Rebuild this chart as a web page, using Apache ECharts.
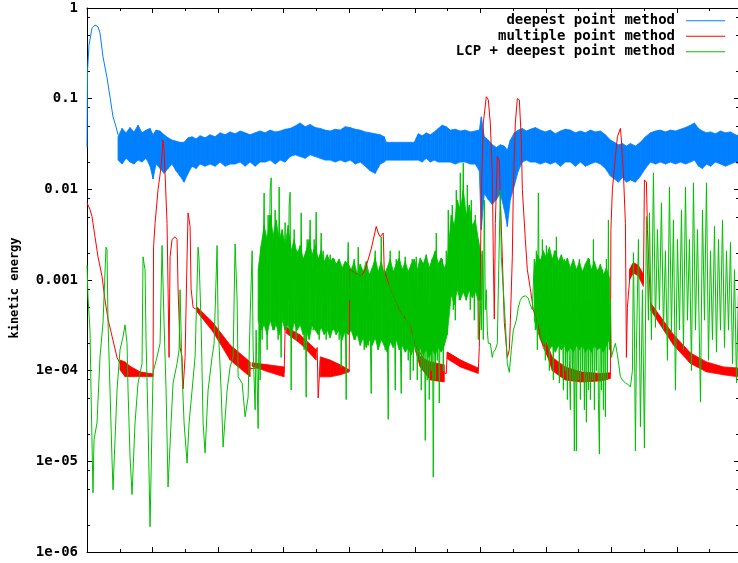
<!DOCTYPE html>
<html><head><meta charset="utf-8">
<script src="https://cdn.jsdelivr.net/npm/echarts@6/dist/echarts.min.js"></script>
<style>html,body{margin:0;padding:0;background:#fff}#c{width:738px;height:563px}</style>
</head><body><div id="c"></div>
<script>
// ---------- names & ticks ----------
const seriesNames = ['deepest point method', 'multiple point method', 'LCP + deepest point method'];
const yTickValues = [1e-6, 1e-5, 1e-4, 1e-3, 1e-2, 1e-1, 1];
const yTickText = ['1e-06', '1e-05', '1e-04', '0.001', '0.01', '0.1', '1'];
const yMinorMult = [2, 5, 8];
const X_MAX = 1303, X_STEP = 131;

// ---------- deepest point method (blue) ----------
const blueT = [0,1,4,10,16,22,26,32,40,46,52,58,62];
const blueV = [0.029,0.2,0.39,0.6,0.65,0.62,0.53,0.29,0.17,0.104,0.063,0.049,0.04];
const blueBandT = [62,70,78,86,94,102,110,118,126,132,138,146,154,162,170,178,186,194,202,210,218,226,236,246,256,266,276,286,296,306,316,326,
336,346,356,366,376,386,396,406,416,426,436,446,456,466,476,486,496,506,516,526,536,546,556,566,576,586,594,598,626,654,
662,670,678,686,694,702,710,718,726,736,746,756,766,776,784,788,794,802,810,818,826,834,840,846,854,862,870,878,886,896,906,916,926,936,946,956,966,976,
986,996,1006,1016,1026,1036,1046,1054,1062,1070,1078,1086,1096,1106,1116,1126,1136,1146,1156,1166,1176,1186,1196,1206,1214,1222,1230,1238,1246,1256,1266,1276,1286,1296,1302];
const blueBandHi = [0.038,0.047,0.042,0.048,0.043,0.051,0.042,0.045,0.047,0.040,0.045,0.044,0.040,0.037,0.035,0.034,0.033,0.033,0.037,0.038,0.036,0.039,0.037,0.040,0.038,0.042,0.040,0.043,0.041,0.044,0.042,0.040,
0.042,0.044,0.042,0.045,0.043,0.044,0.046,0.047,0.050,0.054,0.049,0.052,0.048,0.047,0.045,0.044,0.046,0.045,0.049,0.048,0.046,0.045,0.043,0.042,0.041,0.040,0.038,0.033,0.033,0.033,
0.041,0.039,0.042,0.040,0.043,0.047,0.051,0.049,0.045,0.046,0.044,0.045,0.043,0.044,0.045,0.063,0.038,0.035,0.031,0.029,0.031,0.030,0.027,0.035,0.042,0.045,0.047,0.044,0.046,0.048,0.045,0.043,0.045,0.041,0.044,0.046,0.045,0.042,
0.044,0.042,0.045,0.043,0.044,0.040,0.035,0.033,0.031,0.032,0.030,0.032,0.030,0.033,0.038,0.042,0.044,0.045,0.043,0.045,0.044,0.046,0.048,0.051,0.054,0.047,0.044,0.042,0.043,0.041,0.044,0.042,0.043,0.040,0.039];
const blueBandLo = [0.021,0.019,0.022,0.020,0.019,0.021,0.020,0.022,0.018,0.013,0.019,0.017,0.015,0.017,0.019,0.016,0.014,0.012,0.015,0.018,0.017,0.019,0.018,0.019,0.018,0.020,0.018,0.019,0.019,0.020,0.018,0.020,
0.018,0.020,0.020,0.021,0.019,0.021,0.020,0.023,0.024,0.023,0.022,0.024,0.023,0.022,0.021,0.021,0.020,0.021,0.020,0.021,0.019,0.020,0.018,0.016,0.015,0.019,0.020,0.021,0.021,0.021,
0.021,0.020,0.022,0.020,0.021,0.020,0.020,0.020,0.020,0.019,0.020,0.020,0.019,0.019,0.016,0.0036,0.009,0.0077,0.0068,0.0077,0.009,0.006,0.0039,0.0077,0.011,0.016,0.020,0.021,0.020,0.020,0.019,0.020,0.019,0.020,0.018,0.020,0.020,0.018,
0.020,0.018,0.019,0.020,0.019,0.017,0.014,0.013,0.012,0.0135,0.012,0.0127,0.012,0.014,0.017,0.020,0.019,0.020,0.019,0.020,0.019,0.020,0.019,0.020,0.021,0.018,0.017,0.019,0.018,0.020,0.019,0.018,0.019,0.020,0.019];

// ---------- multiple point method (red) ----------
const redT = [0,6,10,16,22,30,36,42,50,60,
66,86,106,132,133,136,142,148,152,154,
156,160,162,164,166,170,176,180,182,186,
190,192,196,200,202,206,208,212,222,246,
286,326,356,394,396,426,458,460,462,466,
496,524,525,536,548,556,568,578,582,586,
592,594,606,626,646,656,686,718,720,782,
784,788,792,798,802,806,810,812,814,816,
820,824,826,830,834,840,844,846,850,852,
856,860,864,868,870,876,880,886,892,900,
906,912,922,946,976,1016,1046,1047,1050,1056,
1060,1066,1068,1072,1076,1078,1080,1086,1090,1096,
1106,1112,1114,1118,1120,1126,1172,1238,1302];
const redV = [0.0071,0.006,0.005,0.003,0.0018,0.0011,0.0006,0.00037,0.00024,0.00014,
0.00012,0.0001,0.000093,0.00009,0.0023,0.0042,0.01,0.0176,0.035,0.027,
0.015,0.0042,0.0008,0.00014,0.0018,0.0028,0.003,0.0028,0.0008,0.00018,
0.00014,0.000063,0.00014,0.0018,0.0055,0.0039,0.0008,0.0005,0.00046,0.00035,
0.00017,0.000105,0.00011,0.000095,0.0003,0.00022,0.00016,0.00018,0.00005,0.00013,
0.000105,0.0001,0.0013,0.0012,0.0011,0.0013,0.0022,0.0039,0.0033,0.003,
0.0033,0.0013,0.0008,0.00045,0.00032,0.00019,0.000105,0.000093,0.00016,0.0001,
0.00018,0.0083,0.054,0.105,0.097,0.054,0.015,0.0018,0.00037,0.0042,
0.023,0.021,0.0077,0.0018,0.00034,0.00014,0.00017,0.00034,0.0018,0.01,
0.054,0.1,0.097,0.035,0.01,0.0028,0.0013,0.0008,0.00047,0.00034,
0.00024,0.00018,0.00014,0.0001,0.000093,0.00009,0.00009,0.0036,0.01,0.023,
0.038,0.047,0.035,0.015,0.0042,0.00014,0.0005,0.0013,0.0015,0.0015,
0.0012,0.00094,0.0127,0.012,0.0036,0.00056,0.00022,0.00011,0.000093];
// thick oscillating stretches of the red curve (upper / lower envelope), null = gap
const redWedgeT = [66,76,86,106,132,null,220,252,286,326,null,330,362,394,null,398,426,458,null,466,486,506,524,null,656,666,686,714,null,720,746,782,null,900,916,930,956,986,1026,1046,null,1084,1092,1102,1112,null,1126,1172,1206,1238,1272,1302];
const redWedgeHi = [1.31e-4,1.25e-4,1.12e-4,9.7e-5,9.2e-5,null,5.05e-4,3.37e-4,1.92e-4,1.25e-4,null,1.22e-4,1.16e-4,1.1e-4,null,3.04e-4,2.48e-4,1.7e-4,null,1.42e-4,1.31e-4,1.16e-4,1.02e-4,null,1.92e-4,1.42e-4,1.25e-4,1.16e-4,null,1.6e-4,1.31e-4,1.07e-4,null,3.37e-4,2.2e-4,1.4e-4,1.1e-4,9.7e-5,9.3e-5,9.5e-5,null,1.3e-3,1.55e-3,1.45e-3,1.15e-3,null,5.6e-4,2.5e-4,1.57e-4,1.25e-4,1.1e-4,1.07e-4];
const redWedgeLo = [1.02e-4,8.6e-5,8.6e-5,8.6e-5,8.6e-5,null,4.45e-4,2.68e-4,1.31e-4,8.55e-5,null,1.12e-4,9.7e-5,8.55e-5,null,2.6e-4,2.0e-4,1.31e-4,null,8.55e-5,8.55e-5,9e-5,9.7e-5,null,1.7e-4,1.1e-4,7.9e-5,7.5e-5,null,1.35e-4,1.1e-4,9.3e-5,null,2.8e-4,1.7e-4,1.0e-4,7.9e-5,7.5e-5,7.7e-5,8.2e-5,null,1.0e-3,1.2e-3,1.1e-3,8.5e-4,null,4.7e-4,1.92e-4,1.2e-4,9.7e-5,9e-5,8.55e-5];

// ---------- LCP + deepest point method (green) ----------
const greenT1 = [0,2,6,8,12,14,20,26,32,38,40,42,46,50,52,56,60,66,72,76,80,82,86,90,96,102,110,112,116,118,122,126,130,132,140,146,150,154,158,162,168,172,180,184,186,190,194,200,204,210,216,222,224,228,232,236,242,250,254,260,262,268,272,280,286,292,296,300,302,310,316,322,326];
const greenV1 = [1.47e-3,6.5e-4,2.8e-4,6.1e-5,4.5e-6,1.73e-5,2.66e-5,1.42e-4,3.37e-4,2.3e-3,
2.15e-3,3.37e-4,6.1e-5,1.04e-5,4.85e-6,1.73e-5,6.1e-5,1.7e-4,2.36e-4,3.2e-4,
2.0e-4,6.1e-5,1.12e-5,4.3e-6,2.66e-5,7.3e-5,1.2e-4,1.8e-3,1.29e-3,2.2e-4,
2.66e-5,1.9e-6,2.66e-5,9.6e-5,1.42e-4,2.0e-4,2.4e-3,3.37e-4,6.1e-5,5.2e-6,
2.66e-5,7.3e-5,1.2e-4,1.7e-4,7.8e-4,9.6e-5,2.66e-5,9.6e-6,2.66e-5,6.1e-5,
1.42e-4,2.3e-3,1.67e-3,3.37e-4,2.66e-5,1.24e-5,6.1e-5,1.42e-4,2.0e-4,2.4e-3,
3.37e-4,6.1e-5,1.44e-5,6.1e-5,1.1e-4,1.42e-4,2.5e-3,6.0e-4,8.55e-5,7.3e-5,
3.1e-5,5.1e-5,3.9e-4];
const greenT2 = [330,332,336,338,342,344,346,348,350,354,
356,358,360,362,364,366,368,370,372,374,376,378,380,382,384,386,388,390,392,394,
396,398,400,402,404,406,408,410,412,414,416,418,420,422,424,426,428,430,432,434,
436,438,440,442,444,446,448,450,452,454,456,458,460,462,464,466,468,470,472,474,
476,478,480,482,484,486,488,490,492,494,496,498,500,502,504,506,508,510,512,514,
516,518,520,522,524,526,528,530,532,534,536,538,540,542,544,546,548,550,552,554,
556,558,560,562,564,566,568,570,572,574,576,578,580,582,584,586,588,590,592,594,
596,598,600,602,604,606,608,610,612,614,616,618,620,622,624,626,628,630,632,634,
636,638,640,642,644,646,648];
const greenV2 = [0.0021,1.7e-4,3.7e-5,2.8e-4,2.3e-5,6.0e-4,7.9e-5,0.0021,2.2e-4,0.0091,
3.6e-4,0.0017,1.7e-4,0.0052,6.0e-4,0.0098,0.0134,7.8e-4,0.0028,2.8e-4,
0.0059,3.4e-4,0.0021,2.2e-4,0.0106,6.0e-4,1.4e-4,0.0028,4.7e-4,0.0013,
0.0043,2.8e-4,0.0017,6.0e-4,0.0067,0.0093,6.1e-5,0.0017,3.6e-4,0.0036,
7.8e-4,2.2e-4,0.0021,6.0e-4,0.0013,3.6e-4,0.0055,6.0e-4,0.0017,1.7e-4,
0.001,5.1e-5,0.0028,3.6e-4,0.0017,0.0046,6.0e-4,0.0013,2.8e-4,0.0028,
7.8e-4,0.0056,3.6e-4,0.0017,2.2e-4,0.001,0.0033,6.0e-4,0.0021,3.6e-4,
0.0013,2.2e-4,7.8e-4,0.0015,3.6e-4,0.0019,6.0e-4,0.0013,2.8e-4,0.0017,
6.0e-4,0.0015,3.6e-4,0.001,2.2e-4,0.0013,1.1e-4,7.8e-4,2.8e-4,0.0013,
4.7e-4,4.8e-5,0.001,0.0026,6.0e-4,0.0013,2.8e-4,0.001,3.6e-4,0.0017,
2.2e-4,7.8e-4,4.7e-4,0.0023,6.0e-4,2.2e-4,0.0013,2.8e-4,7.8e-4,1.7e-4,
0.001,3.6e-4,0.0013,1.9e-4,6.0e-4,2.8e-4,5.6e-5,7.8e-4,3.6e-4,0.0013,
0.0021,2.2e-4,7.8e-4,1.7e-4,0.001,3.6e-4,0.003,6.0e-4,2.8e-4,0.0013,
1.7e-4,0.001,3.6e-4,2.9e-5,7.8e-4,0.0021,2.8e-4,0.0013,2.2e-4,0.001,
6.1e-5,0.0017,3.6e-4,6.0e-4,0.0021,2.2e-4,5.6e-5,0.0013,3.6e-4,0.001,
0.0018,2.8e-4,7.8e-4,1.3e-4,0.0013,7.9e-5,6.0e-4];
const greenT3 = [650,652,654,656,658,660,662,664,666,668,670,672,674,676,678,680,682,684,686,688,
690,692,694,696,698,700,702,704,706,708,710,712,714,716,718,720,722,724,726,728,
730,732,734,736,738,740,742,744,746,748,750,752,754,756,758,760,762,764,766,768,
770,772,774,776,778,780,782,784,786];
const greenV3 = [0.0017,1.0e-4,0.001,1.7e-4,0.0018,7.9e-5,7.8e-4,1.3e-4,0.0013,6.1e-5,
6.0e-4,1.0e-4,0.0015,1.7e-5,7.8e-4,7.9e-5,0.0013,4.8e-5,6.0e-4,1.0e-4,
0.0017,6.7e-6,6.0e-4,7.9e-5,0.0033,1.3e-4,0.001,4.4e-5,6.0e-4,1.7e-4,
0.0017,1.0e-4,7.8e-4,2.2e-4,0.0021,2.8e-4,0.0059,6.0e-4,0.0028,7.8e-4,
0.0067,4.7e-4,0.0036,3.6e-4,0.0098,0.001,0.0046,6.0e-4,0.0152,7.8e-4,
0.0036,0.0195,0.001,0.0059,6.0e-4,0.0112,0.0013,0.0028,4.7e-4,0.0076,
7.8e-4,0.0036,3.6e-4,0.0052,0.001,0.0021,2.2e-4,0.0017,6.0e-4];
const greenT4 = [788,790,792,794,796,798,800,802,806,810,812,816,820,822,826,828,832,836,840,844,848,852,858,862,866,870,876,882,886,890];
const greenV4 = [2.8e-4,0.0021,2.2e-4,0.0076,4.7e-4,7.8e-4,2.8e-4,2.0e-4,2.0e-4,1.4e-4,1.6e-4,1.7e-4,2.0e-4,7.8e-4,0.0098,0.0018,7.8e-4,3.4e-4,1.2e-4,9.6e-5,1.7e-4,2.8e-4,3.6e-4,5.0e-4,6.0e-4,6.5e-4,6.7e-4,6.3e-4,5.3e-4,4.7e-4];
const greenT5 = [894,896,898,900,902,904,906,908,910,912,914,916,918,920,922,924,926,928,930,932,
934,936,938,940,942,944,946,948,950,952,954,956,958,960,962,964,966,968,970,972,
974,976,978,980,982,984,986,988,990,992,994,996,998,1000,1002,1004,1006,1008,1010,1012,
1014,1016,1018,1020,1022,1024,1026,1028,1030,1032,1034,1036,1038,1040,1042,1044,1046];
const greenV5 = [0.0017,2.8e-4,0.0021,1.7e-4,0.0091,6.0e-4,0.0017,2.2e-4,0.0028,3.6e-4,
0.0013,1.3e-4,0.0024,2.8e-4,0.001,1.0e-4,0.0019,2.2e-4,7.8e-4,7.9e-5,
0.0021,1.7e-4,0.003,2.8e-4,0.001,7.3e-5,0.0013,1.7e-4,6.0e-4,6.1e-5,
0.0017,1.0e-4,7.8e-4,4.8e-5,0.0013,1.3e-4,3.7e-5,0.001,7.9e-5,6.0e-4,
1.3e-5,0.0013,1.3e-5,6.0e-4,7.9e-5,0.0017,4.8e-5,7.8e-4,1.0e-4,0.0013,
3.7e-5,6.0e-4,2.7e-5,0.001,6.1e-5,0.0017,4.8e-5,6.0e-4,7.9e-5,0.0028,
3.7e-5,7.8e-4,1.0e-4,0.0013,4.8e-5,1.2e-5,6.0e-4,6.1e-5,0.0013,3.7e-5,
7.8e-4,3.1e-5,0.0017,7.9e-5,0.0046,1.7e-4,6.0e-4];
const greenT6 = [1048,1052,1056,1060,1066,1070,1076,1082,1086,1090,1092,1094,1096];
const greenV6 = [1.4e-4,1.7e-4,2.0e-4,1.5e-4,8.6e-5,7.9e-5,7.3e-5,7.0e-5,6.6e-5,1.0e-4,0.002,2.8e-4,1.3e-5];
const greenT7 = [1098,1102,1106,1110,1114,1118,1122,1124,1128,1132,1136,1140,1144,1148,1152,1156,1160,1164,1168,1172,
1176,1180,1184,1188,1192,1196,1200,1204,1208,1212,1216,1220,1226,1230,1234,1238,1242,1246,1250,1254,
1258,1262,1266,1270,1274,1278,1282,1286,1290,1294,1298,1302];
const greenV7 = [1.7e-4,0.0028,2.4e-5,7.8e-4,1.4e-5,0.005,3.6e-4,0.0055,2.2e-4,0.0152,
3.0e-4,0.0036,4.7e-4,0.0071,2.8e-4,0.0021,1.3e-4,0.0106,2.6e-4,0.0046,
6.1e-5,0.0028,2.8e-4,0.0059,1.7e-4,0.0106,3.6e-4,0.0028,1.0e-4,0.0118,
2.8e-4,0.0036,4.5e-5,0.0059,3.6e-4,0.0118,1.3e-4,0.0021,2.2e-4,0.0039,
1.6e-4,0.0028,2.8e-4,0.0046,1.8e-4,0.0021,2.8e-4,0.0026,1.2e-4,0.0013,
7.3e-5,7.8e-4];
// solid (densely oscillating) core of the green curve, upper / lower envelope, null = gap
const greenCoreT = [342,348,354,360,366,372,378,384,390,396,402,408,414,420,426,432,438,444,450,456,462,468,474,480,486,492,498,504,510,516,522,
528,534,540,546,552,558,564,570,576,582,588,594,600,606,612,618,624,630,636,642,648,
654,660,666,672,678,684,690,696,702,708,714,720,
728,734,740,746,752,758,764,770,776,782,788,null,
894,900,906,912,918,924,930,936,942,948,954,960,966,972,978,984,990,996,1002,1008,1014,1020,1026,1032,1038,1044];
const greenCoreHi = [0.0013,0.0024,0.004,0.0028,0.0052,0.0031,0.0046,0.0028,0.0036,0.0024,0.004,0.0021,0.0028,0.0019,0.0024,0.0017,0.0021,0.0028,0.0019,0.0024,0.0017,0.0021,0.0016,0.0019,0.0016,0.00175,0.0015,0.0017,0.00136,0.0016,0.0015,
0.0013,0.0016,0.00114,0.0015,0.00123,0.0016,0.00114,0.00136,0.00175,0.00123,0.0016,0.00114,0.00136,0.0017,0.00123,0.0015,0.00175,0.0013,0.0016,0.00123,0.0015,
0.0017,0.0013,0.00175,0.0015,0.0019,0.00136,0.0017,0.0021,0.0015,0.00175,0.00136,0.0016,
0.0052,0.004,0.0076,0.0059,0.0098,0.0052,0.0067,0.004,0.0046,0.0028,0.0019,null,
0.0013,0.0019,0.0016,0.0021,0.00175,0.0023,0.0017,0.0021,0.0016,0.0019,0.0015,0.00175,0.00136,0.0017,0.0013,0.0016,0.00123,0.0015,0.00175,0.0013,0.0016,0.00123,0.0015,0.00114,0.00136,0.00105];
const greenCoreLo = [3.6e-4,2.8e-4,3.2e-4,2.5e-4,3.6e-4,2.8e-4,3.2e-4,2.5e-4,3.6e-4,2.8e-4,3.2e-4,2.3e-4,3.45e-4,2.8e-4,3.2e-4,2.5e-4,2.8e-4,2.2e-4,3.2e-4,2.8e-4,2.5e-4,3.0e-4,2.5e-4,2.8e-4,2.3e-4,3.0e-4,2.5e-4,2.8e-4,2.2e-4,2.7e-4,2.5e-4,
2.8e-4,2.2e-4,2.5e-4,1.9e-4,2.3e-4,1.8e-4,2.2e-4,1.9e-4,2.3e-4,1.7e-4,2.2e-4,1.9e-4,1.6e-4,2.1e-4,1.8e-4,2.2e-4,1.7e-4,1.9e-4,1.6e-4,1.8e-4,1.5e-4,
1.9e-4,1.6e-4,1.8e-4,1.5e-4,1.7e-4,1.4e-4,1.7e-4,1.5e-4,1.8e-4,1.6e-4,1.9e-4,2.5e-4,
6.9e-4,5.3e-4,7.8e-4,6.0e-4,7.4e-4,6.0e-4,7.8e-4,6.35e-4,7.4e-4,6.0e-4,6.0e-4,null,
3.6e-4,2.8e-4,2.2e-4,1.9e-4,2.2e-4,1.7e-4,1.9e-4,1.6e-4,1.9e-4,1.7e-4,1.9e-4,1.6e-4,1.8e-4,1.6e-4,1.9e-4,1.7e-4,1.9e-4,1.6e-4,1.8e-4,1.6e-4,1.9e-4,1.7e-4,1.8e-4,1.6e-4,1.9e-4,2.2e-4];

// ---------- build ----------
const COLORS = ['#0080ff', '#ff0000', '#00c000'];
const FONT = 'DejaVu Sans Mono';
function pairs(T, V) { return T.map((t, i) => [t, V[i]]); }
const greenData = [].concat(pairs(greenT1, greenV1), pairs(greenT2, greenV2), pairs(greenT3, greenV3),
  pairs(greenT4, greenV4), pairs(greenT5, greenV5), pairs(greenT6, greenV6), pairs(greenT7, greenV7));

function bandSeries(name, T, Hi, Lo, color) {
  return {
    type: 'custom', name: name, silent: true, animation: false, clip: true,
    itemStyle: { color: color },
    data: T.map((t, i) => t == null ? [NaN, NaN, NaN] : [t, Hi[i], Lo[i]]),
    encode: { x: 0, y: [1, 2] },
    renderItem: function (params, api) {
      const i = params.dataIndex;
      if (i >= T.length - 1 || T[i] == null || T[i + 1] == null) return null;
      const a = api.coord([T[i], Hi[i]]), b = api.coord([T[i + 1], Hi[i + 1]]);
      const c = api.coord([T[i + 1], Lo[i + 1]]), d = api.coord([T[i], Lo[i]]);
      return { type: 'polygon', shape: { points: [a, b, c, d] },
        style: { fill: color, stroke: color, lineWidth: 0.8 } };
    }
  };
}
function lineSeries(name, data, color) {
  return { type: 'line', name: name, data: data, showSymbol: false, symbol: 'none', silent: true,
    animation: false, clip: true, lineStyle: { color: color, width: 1 }, itemStyle: { color: color } };
}
const yMinor = [];
yTickValues.slice(0, -1).forEach(d => yMinorMult.forEach(m => yMinor.push(d * m)));

function yLabel(v) {
  let best = 0;
  yTickValues.forEach((t, i) => { if (Math.abs(Math.log10(t) - Math.log10(v)) < Math.abs(Math.log10(yTickValues[best]) - Math.log10(v))) best = i; });
  return yTickText[best];
}

const axisCommonX = {
  type: 'value', min: 0, max: X_MAX, interval: X_STEP,
  axisLine: { show: true, onZero: false, lineStyle: { color: '#000', width: 1 } },
  axisTick: { show: true, inside: true, length: 5, lineStyle: { color: '#000' } },
  minorTick: { show: true, splitNumber: 2, length: 3, lineStyle: { color: '#000' } },
  axisLabel: { show: false }, splitLine: { show: false }, minorSplitLine: { show: false }
};

const option = {
  animation: false,
  backgroundColor: '#fff',
  grid: { left: 87, top: 8, width: 652, height: 544, containLabel: false, outerBoundsMode: 'none' },
  legend: {
    orient: 'vertical', right: 13, top: 13, align: 'right', padding: 0,
    itemWidth: 39, itemHeight: 10, itemGap: 0, selectedMode: false,
    textStyle: { fontFamily: FONT, fontWeight: 'bold', fontSize: 14, lineHeight: 15.5, color: '#000', padding: [0, 6, 0, 0] },
    data: seriesNames.map((n, i) => ({ name: n, icon: 'path://M0,0H40V1.1H0Z', itemStyle: { color: COLORS[i] } }))
  },
  xAxis: [
    Object.assign({ position: 'bottom' }, axisCommonX),
    Object.assign({ position: 'top' }, axisCommonX)
  ],
  yAxis: [
    { type: 'log', logBase: 10, min: 1e-6, max: 1, splitNumber: 6, position: 'left',
      axisLine: { show: true, onZero: false, lineStyle: { color: '#000', width: 1 } },
      axisTick: { show: true, inside: true, length: 5, lineStyle: { color: '#000' } },
      axisLabel: { formatter: yLabel, fontFamily: FONT, fontWeight: 'bold', fontSize: 14, color: '#000', margin: 9 },
      splitLine: { show: false },
      name: 'kinetic energy', nameLocation: 'middle', nameGap: 66, nameRotate: 90,
      nameTextStyle: { fontFamily: FONT, fontWeight: 'bold', fontSize: 12, color: '#000', padding: [0, 16, 0, 0] } },
    { type: 'log', logBase: 10, min: 1e-6, max: 1, splitNumber: 6, position: 'right',
      axisLine: { show: true, onZero: false, lineStyle: { color: '#000', width: 1 } },
      axisTick: { show: true, inside: true, length: 5, lineStyle: { color: '#000' } },
      axisLabel: { show: false }, splitLine: { show: false } }
  ],
  series: [
    bandSeries(seriesNames[0], blueBandT, blueBandHi, blueBandLo, COLORS[0]),
    lineSeries(seriesNames[0], pairs(blueT, blueV), COLORS[0]),
    bandSeries(seriesNames[1], redWedgeT, redWedgeHi, redWedgeLo, COLORS[1]),
    lineSeries(seriesNames[1], pairs(redT, redV), COLORS[1]),
    bandSeries(seriesNames[2], greenCoreT, greenCoreHi, greenCoreLo, COLORS[2]),
    lineSeries(seriesNames[2], greenData, COLORS[2]),
    { type: 'custom', silent: true, animation: false, clip: false,
      data: yMinor.map(v => [0, v]), encode: { x: 0, y: 1 },
      renderItem: function (params, api) {
        const v = api.value(1);
        const l = api.coord([0, v]), r = api.coord([X_MAX, v]);
        const y = Math.round(l[1]) + 0.5;
        return { type: 'group', children: [
          { type: 'line', shape: { x1: l[0], y1: y, x2: l[0] + 3, y2: y }, style: { stroke: '#000', lineWidth: 1 } },
          { type: 'line', shape: { x1: r[0], y1: y, x2: r[0] - 3, y2: y }, style: { stroke: '#000', lineWidth: 1 } }
        ] };
      } }
  ]
};
const chart = echarts.init(document.getElementById('c'), null, { renderer: 'canvas' });
chart.setOption(option);
</script>
</body></html>
